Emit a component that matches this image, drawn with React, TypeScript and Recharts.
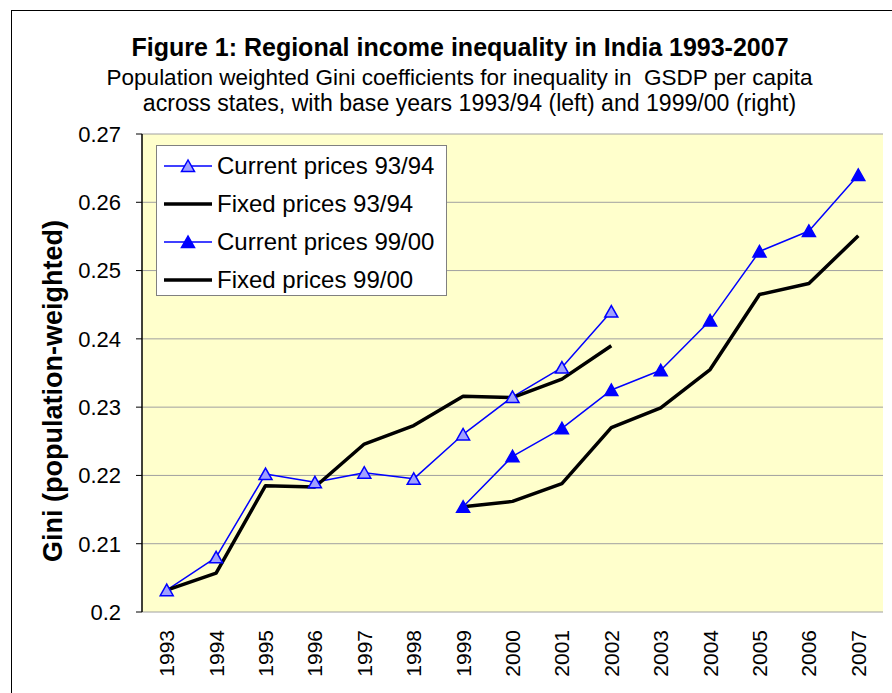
import React from 'react';
import { LineChart, Line, XAxis, YAxis, CartesianGrid, Legend } from 'recharts';

const years = [1993, 1994, 1995, 1996, 1997, 1998, 1999, 2000, 2001, 2002, 2003, 2004, 2005, 2006, 2007];
const current9394 = [0.2032, 0.2080, 0.2202, 0.2190, 0.2204, 0.2195, 0.2260, 0.2315, 0.2358, 0.2440, null, null, null, null, null];
const fixed9394 = [0.2032, 0.2057, 0.2185, 0.2183, 0.2246, 0.2273, 0.2316, 0.2314, 0.2341, 0.2390, null, null, null, null, null];
const current9900 = [null, null, null, null, null, null, 0.2154, 0.2228, 0.2269, 0.2325, 0.2354, 0.2427, 0.2528, 0.2558, 0.2640];
const fixed9900 = [null, null, null, null, null, null, 0.2154, 0.2162, 0.2188, 0.2270, 0.2299, 0.2355, 0.2465, 0.2481, 0.2551];
const yTicks = [0.2, 0.21, 0.22, 0.23, 0.24, 0.25, 0.26, 0.27];
const boundaryTicks = [1992.5, 1993.5, 1994.5, 1995.5, 1996.5, 1997.5, 1998.5, 1999.5, 2000.5, 2001.5, 2002.5, 2003.5, 2004.5, 2005.5, 2006.5, 2007.5];

const titleText = 'Figure 1: Regional income inequality in India 1993-2007';
const subtitle1 = 'Population weighted Gini coefficients for inequality in  GSDP per capita';
const subtitle2 = 'across states, with base years 1993/94 (left) and 1999/00 (right)';
const yLabel = 'Gini (population-weighted)';

const series = [
  { key: 'c9394', name: 'Current prices 93/94', color: '#0000FF', width: 1.5, marker: 'open' },
  { key: 'f9394', name: 'Fixed prices 93/94', color: '#000000', width: 3.5, marker: 'none' },
  { key: 'c9900', name: 'Current prices 99/00', color: '#0000FF', width: 1.5, marker: 'filled' },
  { key: 'f9900', name: 'Fixed prices 99/00', color: '#000000', width: 3.5, marker: 'none' },
];

const data = years.map((year, i) => ({
  year,
  c9394: current9394[i],
  f9394: fixed9394[i],
  c9900: current9900[i],
  f9900: fixed9900[i],
}));

const FONT = '"Liberation Sans", Arial, Helvetica, sans-serif';

const triPoints = (cx: number, cy: number) =>
  `${cx},${cy - 6} ${cx - 6.5},${cy + 5.5} ${cx + 6.5},${cy + 5.5}`;

const makeDot = (filled: boolean) => (props: any) => {
  const { cx, cy, value, index } = props;
  if (cx == null || cy == null || value == null || Number.isNaN(cy)) return <g key={`d-${index}`} />;
  return (
    <polygon
      key={`d-${index}`}
      points={triPoints(cx, cy)}
      fill={filled ? '#0000FF' : '#A0A0FF'}
      stroke="#0000FF"
      strokeWidth={1.5}
    />
  );
};

const YearTick = (props: any) => {
  const { x, y, payload } = props;
  return (
    <text
      x={x}
      y={y}
      transform={`rotate(-90, ${x}, ${y})`}
      textAnchor="end"
      dy="0.36em"
      fontSize={21}
      fill="#000"
      fontFamily={FONT}
    >
      {payload.value}
    </text>
  );
};

const fmtY = (v: number) => String(Number(v.toFixed(2)));

const LegendBox = () => (
  <div
    style={{
      width: 291,
      height: 151,
      boxSizing: 'border-box',
      border: '1px solid #808080',
      background: '#FFFFFF',
      fontFamily: FONT,
      fontSize: 24,
      position: 'relative',
    }}
  >
    {series.map((s, i) => (
      <div
        key={s.key}
        style={{
          position: 'absolute',
          left: 6,
          top: 4 + i * 38,
          height: 32,
          display: 'flex',
          alignItems: 'center',
          whiteSpace: 'nowrap',
        }}
      >
        <svg width={50} height={20} style={{ marginRight: 4 }}>
          <line x1={1} y1={10} x2={49} y2={10} stroke={s.color} strokeWidth={s.width} />
          {s.marker !== 'none' && (
            <polygon
              points={triPoints(25, 10)}
              fill={s.marker === 'filled' ? '#0000FF' : '#A0A0FF'}
              stroke="#0000FF"
              strokeWidth={1.5}
            />
          )}
        </svg>
        <span style={{ color: '#000' }}>{s.name}</span>
      </div>
    ))}
  </div>
);

export default function App() {
  return (
    <div style={{ position: 'absolute', left: 0, top: 0, width: 892, height: 693, background: '#FFFFFF', overflow: 'hidden' }}>
      <LineChart
        width={892}
        height={693}
        data={data}
        margin={{ top: 134, right: 9, bottom: 0, left: 42 }}
      >
        <CartesianGrid
          fill="#FFFFCC"
          vertical={false}
          stroke="#A0A0A0"
          strokeWidth={1}
          yAxisId="left"
          xAxisId={0}
        />
        <XAxis
          xAxisId={0}
          type="number"
          dataKey="year"
          domain={[1992.5, 2007.5]}
          ticks={boundaryTicks}
          tick={false}
          tickLine={{ stroke: '#000' }}
          tickSize={6}
          axisLine={{ stroke: '#000', strokeWidth: 1.5 }}
          height={0}
          allowDataOverflow
        />
        <XAxis
          xAxisId="lbl"
          type="number"
          dataKey="year"
          domain={[1992.5, 2007.5]}
          ticks={years}
          interval={0}
          tick={<YearTick />}
          tickLine={false}
          axisLine={false}
          tickSize={6}
          tickMargin={12}
          height={81}
          allowDataOverflow
        />
        <YAxis
          yAxisId="left"
          type="number"
          domain={[0.2, 0.27]}
          ticks={yTicks}
          interval={0}
          tickFormatter={fmtY}
          tick={{ fontSize: 22, fill: '#000', fontFamily: FONT }}
          tickLine={{ stroke: '#000' }}
          tickSize={6}
          tickMargin={15}
          axisLine={{ stroke: '#000', strokeWidth: 1.5 }}
          width={100}
          allowDataOverflow
        />
        <YAxis
          yAxisId="right"
          orientation="right"
          type="number"
          domain={[0.2, 0.27]}
          tick={false}
          tickLine={false}
          axisLine={{ stroke: '#808080', strokeWidth: 1.5 }}
          width={0}
        />
        <Legend
          layout="horizontal"
          verticalAlign="middle"
          align="center"
          content={() => <LegendBox />}
          wrapperStyle={{ position: 'absolute', left: 156, top: 145, width: 291, height: 151 }}
        />
        {series.map((s) => (
          <Line
            key={s.key}
            xAxisId="lbl"
            yAxisId="left"
            type="linear"
            dataKey={s.key}
            name={s.name}
            stroke={s.color}
            strokeWidth={s.width}
            strokeLinejoin="round"
            dot={s.marker === 'none' ? false : makeDot(s.marker === 'filled')}
            activeDot={false}
            isAnimationActive={false}
            connectNulls={false}
          />
        ))}
      </LineChart>
      <svg
        width={892}
        height={693}
        style={{ position: 'absolute', left: 0, top: 0, pointerEvents: 'none' }}
      >
        <rect x={11.5} y={10.5} width={900} height={900} fill="none" stroke="#000" strokeWidth={1} />
        <text x={460} y={56} textAnchor="middle" fontFamily={FONT} fontWeight="bold" fontSize={25} fill="#000">
          {titleText}
        </text>
        <text x={459.5} y={85} textAnchor="middle" fontFamily={FONT} fontSize={22.5} fill="#000" style={{ whiteSpace: 'pre' }}>
          {subtitle1}
        </text>
        <text x={469.5} y={111} textAnchor="middle" fontFamily={FONT} fontSize={23.1} fill="#000">
          {subtitle2}
        </text>
        <text
          transform="translate(53,391) rotate(-90)"
          textAnchor="middle"
          dominantBaseline="central"
          fontFamily={FONT}
          fontWeight="bold"
          fontSize={27}
          fill="#000"
        >
          {yLabel}
        </text>
      </svg>
    </div>
  );
}
